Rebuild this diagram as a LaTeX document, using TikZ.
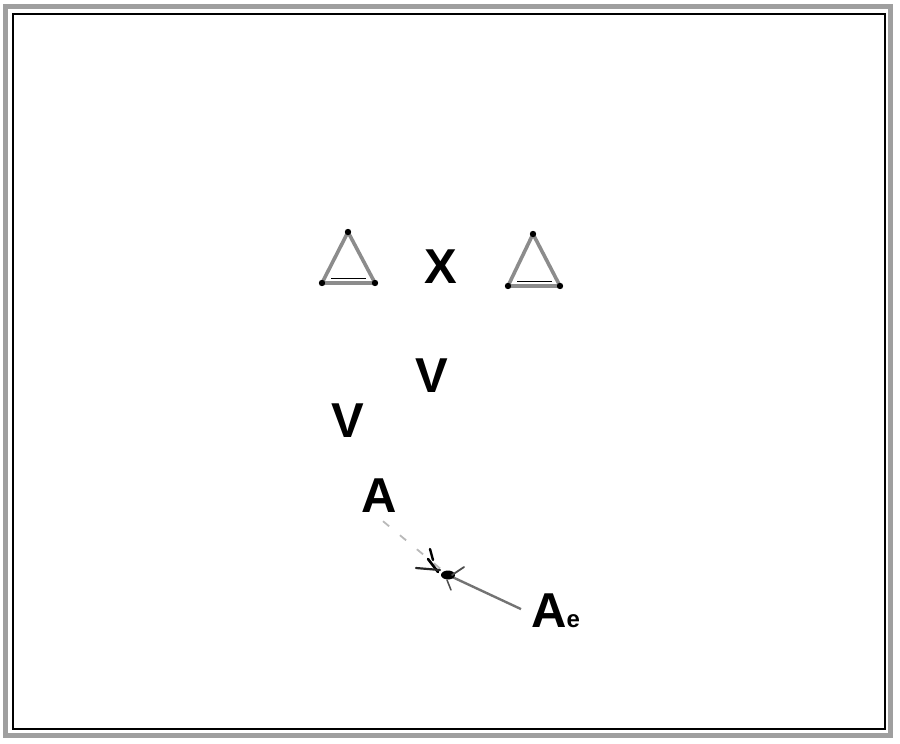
\documentclass[tikz,border=0pt]{standalone}
\usepackage{fontspec}
\setmainfont{Liberation Sans}
\usepackage{xcolor}

\begin{document}
\begin{tikzpicture}[x=1pt, y=-1pt,
  player/.style={font=\fontsize{49}{49}\selectfont\bfseries, inner sep=0pt, anchor=base},
  cone/.style={draw=gray!90, line width=3.6pt, line join=round}]
\useasboundingbox (0,0) rectangle (900,744);

% Frame
\draw[gray!75, line width=5pt] (5,6.5) rectangle (890,735);
\draw[black, line width=2pt] (12.5,13.5) rectangle (884.5,728.5);

% Cones
\draw[cone] (348,232) -- (322,283) -- (375,283) -- cycle;
\draw[black, line width=0.8pt] (331,278) -- (366,278);
\draw[cone] (533,234) -- (508,286) -- (560,286) -- cycle;
\draw[black, line width=0.8pt] (517,281) -- (552,281);
\foreach \p in {(348,232),(322,283),(375,283),(533,234),(508,286),(560,286)}
  \fill[black] \p circle (3.2);

% Coach and players
\node[player] (coach) at (441,283) {X};
\node[player] (v1) at (432,392) {V};
\node[player] (v2) at (348,437) {V};
\node[player] (a) at (379,512) {A};
\node[player, anchor=base west] (ae) at (531,627) {A{\fontsize{24}{24}\selectfont e}};

% Pass through the ball
\coordinate (ball) at (448,575);
\draw[gray!55, line width=1.8pt, dash pattern=on 8pt off 14pt] ([xshift=4pt,yshift=-9pt]a.south) -- (ball);
\draw[gray!90!black, line width=2.4pt] (ball) -- ([xshift=-10pt,yshift=-16pt]ae.north west);
\fill[black] (ball) ellipse (7 and 4.5);
\draw[black, line width=2.6pt, line cap=round] (428,559) -- (438,572);
\draw[black, line width=2.4pt, line cap=round] (430,549) -- (433,560);
\draw[black!85, line width=2.2pt, line cap=round] (416,568) -- (440,570);
\draw[black!70, line width=1.8pt, line cap=round] (452,575) -- (464,567);
\draw[black!70, line width=1.5pt, line cap=round] (447,580) -- (451,590);
\end{tikzpicture}
\end{document}
